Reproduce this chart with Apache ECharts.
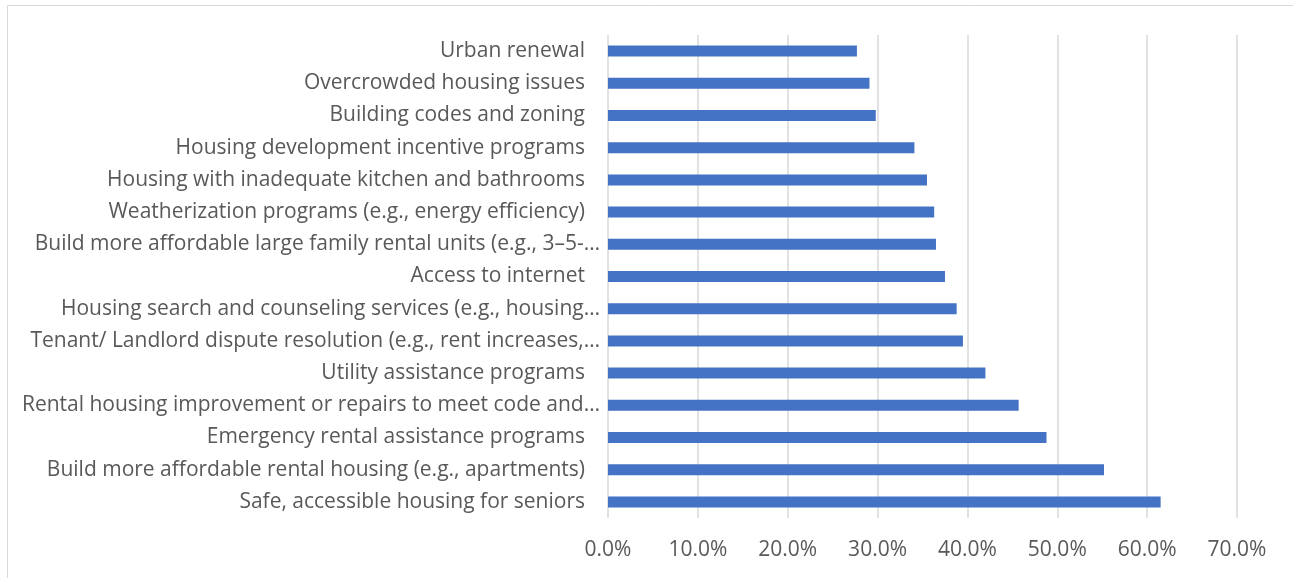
<!DOCTYPE html>
<html>
<head>
<meta charset="utf-8">
<script src="https://cdn.jsdelivr.net/npm/echarts@6/dist/echarts.min.js"></script>
<style>html,body{margin:0;padding:0;background:#fff;}#c{width:1293px;height:578px;}</style>
</head>
<body>
<div id="c"></div>
<script>
const categories = [
  "Urban renewal",
  "Overcrowded housing issues",
  "Building codes and zoning",
  "Housing development incentive programs",
  "Housing with inadequate kitchen and bathrooms",
  "Weatherization programs (e.g., energy efficiency)",
  "Build more affordable large family rental units (e.g., 3–5-…",
  "Access to internet",
  "Housing search and counseling services (e.g., housing…",
  "Tenant/ Landlord dispute resolution (e.g., rent increases,…",
  "Utility assistance programs",
  "Rental housing improvement or repairs to meet code and…",
  "Emergency rental assistance programs",
  "Build more affordable rental housing (e.g., apartments)",
  "Safe, accessible housing for seniors"
];
const values = [27.7, 29.1, 29.8, 34.1, 35.5, 36.3, 36.5, 37.5, 38.8, 39.5, 42.0, 45.7, 48.8, 55.2, 61.5];
const xTicks = [0, 10, 20, 30, 40, 50, 60, 70];

const FONT = 'Open Sans';
const FS = 21;
const chart = echarts.init(document.getElementById('c'));
chart.setOption({
  animation: false,
  graphic: [{
    type: 'rect', shape: { x: 7.5, y: 5.5, width: 1300, height: 600 },
    style: { fill: 'none', stroke: '#d9d9d9', lineWidth: 1 }, silent: true
  }],
  grid: { left: 608, right: 56, top: 35, bottom: 60, containLabel: false },
  xAxis: {
    type: 'value', min: xTicks[0], max: xTicks[xTicks.length - 1], interval: 10,
    axisLine: { show: false }, axisTick: { show: false },
    splitLine: { show: true, lineStyle: { color: '#d9d9d9', width: 1.5 } },
    axisLabel: {
      margin: 22, color: '#595959', fontFamily: FONT, fontSize: FS,
      formatter: v => v.toFixed(1) + '%'
    }
  },
  yAxis: {
    type: 'category', data: categories, inverse: true,
    axisLine: { show: false }, axisTick: { show: false },
    axisLabel: {
      margin: 8, color: '#595959', fontFamily: FONT, fontSize: FS,
      formatter: v => v.endsWith('…') ? '{b|' + v + '}' : '{a|' + v + '}',
      rich: {
        a: { padding: [0, 15, 0, 0], color: '#595959', fontFamily: FONT, fontSize: FS },
        b: { color: '#595959', fontFamily: FONT, fontSize: FS }
      }
    }
  },
  series: [{
    type: 'bar', data: values, barWidth: 11,
    itemStyle: { color: '#4472C4' }
  }]
});
</script>
</body>
</html>
